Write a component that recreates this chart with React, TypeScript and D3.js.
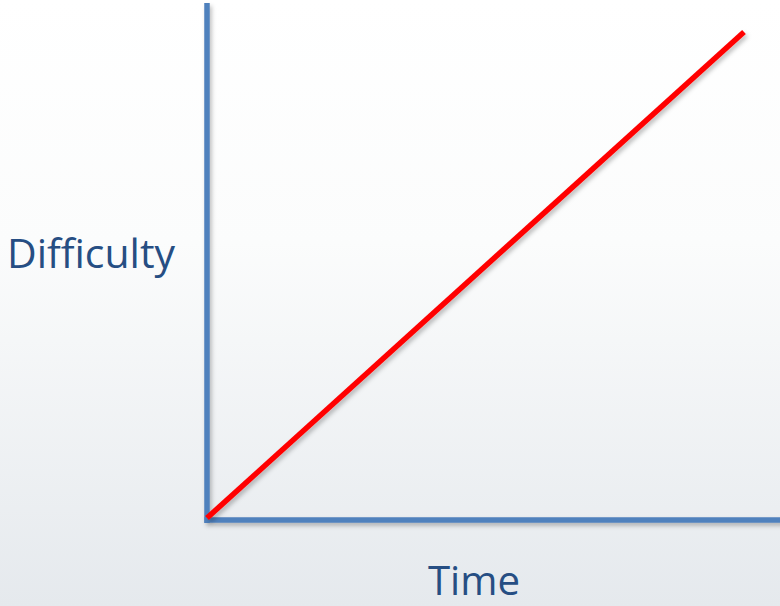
import React from "react";
import * as d3 from "d3";

const timeValues = [0, 10];
const difficultyValues = [0, 10];
const xLabel = "Time";
const yLabel = "Difficulty";

const W = 780;
const H = 606;

export default function App() {
  const x = d3.scaleLinear().domain([0, 10]).range([207, 744]);
  const y = d3.scaleLinear().domain([0, 10]).range([518, 32]);
  const pts: [number, number][] = timeValues.map((t, i) => [t, difficultyValues[i]]);
  const line = d3
    .line<[number, number]>()
    .x((d) => x(d[0]))
    .y((d) => y(d[1]));
  const x0 = x(0);
  const y0 = y(0) + 2;
  return (
    <svg
      width={W}
      height={H}
      style={{ position: "absolute", left: 0, top: 0, display: "block" }}
    >
      <defs>
        <linearGradient id="bg" x1="0" y1="0" x2="0" y2="1">
          <stop offset="0%" stopColor="#ffffff" />
          <stop offset="40%" stopColor="#fbfcfc" />
          <stop offset="100%" stopColor="#e5e9ed" />
        </linearGradient>
        <filter id="sh" x="-10%" y="-10%" width="130%" height="130%">
          <feDropShadow dx="2" dy="3" stdDeviation="2" floodColor="#000" floodOpacity="0.25" />
        </filter>
      </defs>
      <rect x={0} y={0} width={W} height={H} fill="url(#bg)" />
      <g filter="url(#sh)">
        <line x1={x0} y1={3} x2={x0} y2={y0 + 3} stroke="#4F81BD" strokeWidth={5.5} />
        <line x1={x0 - 2.5} y1={y0} x2={W + 5} y2={y0} stroke="#4F81BD" strokeWidth={5.5} />
      </g>
      <path
        d={line(pts) || ""}
        fill="none"
        stroke="#FF0000"
        strokeWidth={5.5}
        filter="url(#sh)"
      />
      <text
        x={7}
        y={268}
        fontFamily="'Open Sans', 'Noto Sans', sans-serif"
        fontSize={40}
        fill="#264E83"
        textLength={168}
        lengthAdjust="spacingAndGlyphs"
      >
        {yLabel}
      </text>
      <text
        x={428}
        y={595}
        fontFamily="'Open Sans', 'Noto Sans', sans-serif"
        fontSize={40}
        fill="#264E83"
        textLength={92}
        lengthAdjust="spacingAndGlyphs"
      >
        {xLabel}
      </text>
    </svg>
  );
}
